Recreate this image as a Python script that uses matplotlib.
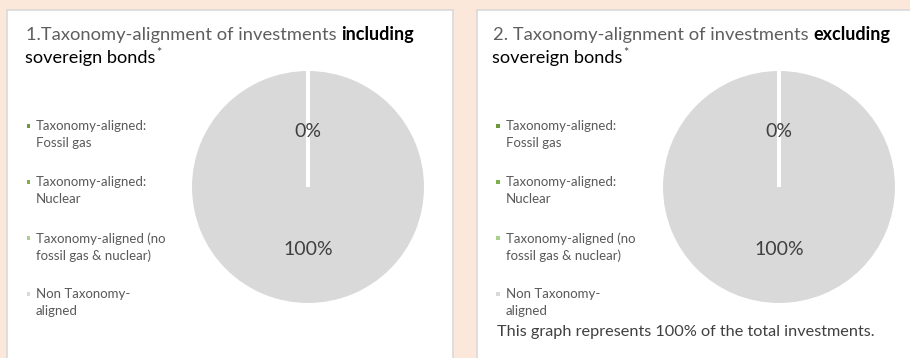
import matplotlib
matplotlib.use("Agg")
import matplotlib.pyplot as plt
from matplotlib.patches import Rectangle

W, H = 910, 358

panel_ids = ["1.", "2. "]
panel_scope = ["including", "excluding"]
shares = [[0, 0, 0, 100], [0, 0, 0, 100]]
categories = ["Taxonomy-aligned:\nFossil gas",
              "Taxonomy-aligned:\nNuclear",
              "Taxonomy-aligned (no\nfossil gas & nuclear)",
              "Non Taxonomy-\naligned"]
colors = ["#6B9A3C", "#7DB04A", "#A9D18E", "#D9D9D9"]
note = "This graph represents 100% of the total investments."

bg = "#FCE8DA"
fig = plt.figure(figsize=(W / 100, H / 100), dpi=100, facecolor=bg)


def fx(x):
    return x / W


def fy(y):
    return 1 - y / H


# white cards behind everything
for x0, x1 in [(7, 453), (477, 915)]:
    fig.patches.append(Rectangle((fx(x0), fy(H + 10)), fx(x1 - x0), H / H,
                                 transform=fig.transFigure, facecolor="white",
                                 edgecolor="#D9D9D9", lw=1.2, zorder=-5))

fig.canvas.draw()
rend = fig.canvas.get_renderer()


def title(x, y, parts):
    # draw pieces of a title line one after another
    for txt, kw in parts:
        t = fig.text(fx(x), fy(y), txt, va="baseline", ha="left", family="Lato", **kw)
        bb = t.get_window_extent(renderer=rend)
        x += bb.width
    return x


for k in range(2):
    tx = 26 if k == 0 else 493
    title(tx, 40, [("%sTaxonomy-alignment of investments " % panel_ids[k],
                    dict(fontsize=13.2, color="#5E5E5E")),
                   (panel_scope[k], dict(fontsize=13, color="black", fontweight="bold"))])
    end = title(tx - 1, 63, [("sovereign bonds", dict(fontsize=13.1, color="black"))])
    fig.text(fx(end + 1), fy(57), "*", fontsize=9, color="#404040", family="Lato",
             va="baseline", ha="left")

    # legend
    mx = 28 if k == 0 else 498
    for i, (lab, c) in enumerate(zip(categories, colors)):
        y = 126 + 56 * i
        fig.patches.append(Rectangle((fx(mx - 1.5), fy(y + 1.5)), fx(3.5), 3.5 / H,
                                     transform=fig.transFigure, facecolor=c,
                                     edgecolor="none", zorder=3))
        fig.text(fx(mx + 8), fy(y - 6), lab, fontsize=9.5, color="#595959",
                 family="Lato", va="top", ha="left", linespacing=1.5)

    # pie
    cx = 308 if k == 0 else 779
    cy = 187
    r = 118
    ax = fig.add_axes([fx(cx - r), fy(cy + r), fx(2 * r), 2 * r / H])
    wedges, texts, autos = ax.pie(shares[k], colors=colors, startangle=90,
                                  counterclock=False, radius=1,
                                  autopct=lambda p: "%d%%" % round(p),
                                  pctdistance=0.5,
                                  wedgeprops=dict(edgecolor="white", linewidth=2.9),
                                  textprops=dict(fontsize=14, color="#404040",
                                                 family="Lato"))
    # empty slices only show as the white divider: above the big slice, below the labels
    seen = set()
    for w, a, v in zip(wedges, autos, shares[k]):
        if v == 0:
            w.set_zorder(2)
        a.set_zorder(4)
        px, py = a.get_position()
        a.set_position((px, py - 0.03))
        key = (round(px, 3), round(py, 3))
        if key in seen:
            a.set_visible(False)
        seen.add(key)
    ax.set_xlim(-1, 1)
    ax.set_ylim(-1, 1)
    ax.set_aspect("equal")
    ax.axis("off")

fig.text(fx(497), fy(332), note, fontsize=11.7, color="#404040", family="Lato",
         va="center", ha="left")

fig.savefig("out.png", dpi=100, facecolor=bg)
